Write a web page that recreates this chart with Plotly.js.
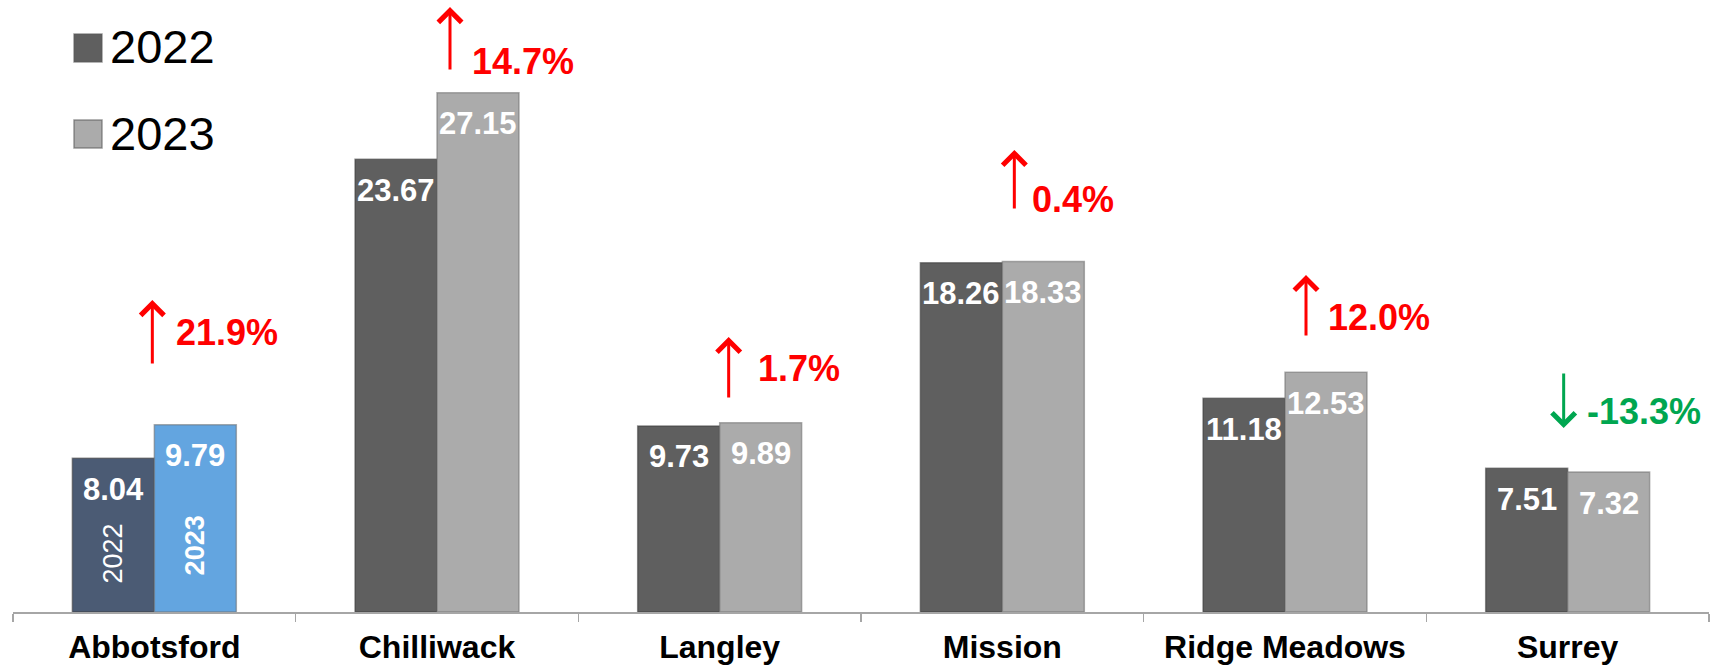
<!DOCTYPE html>
<html>
<head>
<meta charset="utf-8">
<script src="https://cdn.plot.ly/plotly-3.0.1.min.js"></script>
<style>
  html, body { margin: 0; padding: 0; background: #ffffff; }
  #chart { width: 1712px; height: 666px; }
</style>
</head>
<body>
<div id="chart"></div>
<script>
// ---- data ----
const categories = ['Abbotsford', 'Chilliwack', 'Langley', 'Mission', 'Ridge Meadows', 'Surrey'];
const values2022 = [8.04, 23.67, 9.73, 18.26, 11.18, 7.51];
const values2023 = [9.79, 27.15, 9.89, 18.33, 12.53, 7.32];
const changeLabels = ['21.9%', '14.7%', '1.7%', '0.4%', '12.0%', '-13.3%'];
const seriesNames = ['2022', '2023'];
const highlightCategory = 'Abbotsford';

// ---- styles ----
const FONT = 'Liberation Sans, Arial, sans-serif';
const col2022 = '#5f5f5f', col2023 = '#ababab';
const hl2022 = '#4b5b74', hl2023 = '#63a5e0';
const UP = '#ff0000', DOWN = '#00a650';

// annotation placement (layout only): arrow head y (data units), arrow length (px), x offsets (px)
const changeLayout = [
  {head: 16.31, len: 65, dx: -2, tx: 20, ty: 14.59},
  {head: 31.63, len: 64, dx: 13, tx: 33, ty: 28.76},
  {head: 14.38, len: 62, dx: 9,  tx: 36, ty: 12.71},
  {head: 24.16, len: 60, dx: 12, tx: 28, ty: 21.59},
  {head: 17.62, len: 62, dx: 21, tx: 41, ty: 15.42},
  {head: 9.62,  len: -56, dx: -4, tx: 17, ty: 10.51}
];

const colors2022 = categories.map(c => c === highlightCategory ? hl2022 : col2022);
const colors2023 = categories.map(c => c === highlightCategory ? hl2023 : col2023);

const traces = [
  {
    type: 'bar', name: seriesNames[0], x: categories, y: values2022,
    marker: {color: colors2022, line: {color: 'rgba(60,60,60,0.55)', width: 1.5}},
    showlegend: false, hoverinfo: 'skip'
  },
  {
    type: 'bar', name: seriesNames[1], x: categories, y: values2023,
    marker: {color: colors2023, line: {color: 'rgba(110,110,110,0.55)', width: 1.5}},
    showlegend: false, hoverinfo: 'skip'
  }
];

const annotations = [];
const BAR_OFF = 41;
// value labels
categories.forEach((c, i) => {
  [[values2022, -BAR_OFF], [values2023, BAR_OFF]].forEach(([arr, off]) => {
    annotations.push({
      x: c, y: arr[i], xref: 'x', yref: 'y', xshift: off, yshift: -31,
      text: '<b>' + arr[i].toFixed(2) + '</b>', showarrow: false,
      xanchor: 'center', yanchor: 'middle',
      font: {family: FONT, size: 31, color: '#ffffff'}
    });
  });
});
// vertical year labels inside the highlighted bars
const hi = categories.indexOf(highlightCategory);
annotations.push({
  x: categories[hi], y: 3.08, xref: 'x', yref: 'y', xshift: -BAR_OFF,
  text: seriesNames[0], textangle: -90, showarrow: false,
  font: {family: FONT, size: 27, color: '#ffffff'}
});
annotations.push({
  x: categories[hi], y: 3.5, xref: 'x', yref: 'y', xshift: BAR_OFF,
  text: '<b>' + seriesNames[1] + '</b>', textangle: -90, showarrow: false,
  font: {family: FONT, size: 27, color: '#ffffff'}
});
// change arrows and percentages
categories.forEach((c, i) => {
  const L = changeLayout[i];
  const isUp = !changeLabels[i].startsWith('-');
  const clr = isUp ? UP : DOWN;
  annotations.push({
    x: c, y: L.head, xref: 'x', yref: 'y', xshift: L.dx,
    text: '', showarrow: true, ax: 0, ay: L.len, axref: 'pixel', ayref: 'pixel',
    arrowhead: 4, arrowsize: 1.5, arrowwidth: 3, arrowcolor: clr, standoff: 0
  });
  annotations.push({
    x: c, y: L.ty, xref: 'x', yref: 'y', xshift: L.tx,
    text: '<b>' + changeLabels[i] + '</b>', showarrow: false,
    xanchor: 'left', yanchor: 'middle',
    font: {family: FONT, size: 36, color: clr}
  });
});
// custom legend
const PW = 1696, PH = 612, ML = 13;
const px = v => (v - ML) / PW;
const py = v => (PH - v) / PH;
const legendRows = [{top: 34, mid: 47, color: col2022}, {top: 120, mid: 133, color: col2023}];
const shapes = [];
legendRows.forEach((r, k) => {
  shapes.push({
    type: 'rect', xref: 'paper', yref: 'paper',
    x0: px(74), x1: px(102), y0: py(r.top + 28), y1: py(r.top),
    fillcolor: r.color, line: {color: 'rgba(90,90,90,0.6)', width: 1.5}
  });
  annotations.push({
    x: px(108), y: py(r.mid), xref: 'paper', yref: 'paper',
    text: seriesNames[k], showarrow: false, xanchor: 'left', yanchor: 'middle',
    font: {family: FONT, size: 47, color: '#000000'}
  });
});

const layout = {
  width: 1712, height: 666,
  margin: {l: ML, r: 3, t: 0, b: 54},
  paper_bgcolor: '#ffffff', plot_bgcolor: '#ffffff',
  barmode: 'group', bargap: 0.42, bargroupgap: 0,
  font: {family: FONT, color: '#000000'},
  showlegend: false,
  xaxis: {
    type: 'category', showline: true, linecolor: '#a6a6a6', linewidth: 1.5,
    ticks: 'outside', tickson: 'boundaries', ticklen: 8, tickwidth: 1.5, tickcolor: '#a6a6a6',
    ticklabelstandoff: 6,
    tickfont: {family: FONT, size: 32, color: '#000000', weight: 'bold'},
    showgrid: false, zeroline: false, fixedrange: true
  },
  yaxis: {
    range: [0, 32], visible: false, showgrid: false, zeroline: false, fixedrange: true
  },
  annotations: annotations,
  shapes: shapes
};

Plotly.newPlot('chart', traces, layout, {staticPlot: true, displayModeBar: false});
</script>
</body>
</html>
